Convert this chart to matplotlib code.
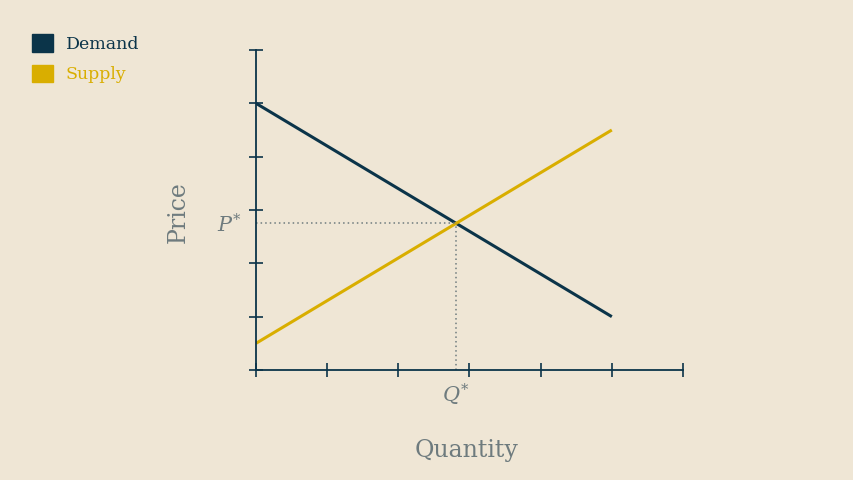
import matplotlib.pyplot as plt
from matplotlib.patches import Patch

# data
quantity = [0, 5]
demand = [5, 1]
supply = [0.5, 4.5]
q_star = 2.8125
p_star = 2.75
ticks = [0, 1, 2, 3, 4, 5, 6]

bg = "#EFE6D5"
navy = "#0B3449"
gold = "#D9AE00"
grey = "#6E7B7E"

plt.rcParams["font.family"] = ["DejaVu Serif"]
plt.rcParams["mathtext.fontset"] = "dejavuserif"

fig = plt.figure(figsize=(8.54, 4.8), dpi=100, facecolor=bg)
ax = fig.add_axes([256 / 854, 110 / 480, 427 / 854, 320 / 480])
ax.set_facecolor(bg)

ax.plot(quantity, demand, color=navy, lw=2.2, solid_capstyle="butt")
ax.plot(quantity, supply, color=gold, lw=2.2, solid_capstyle="butt")

# equilibrium guides
ax.plot([0, q_star], [p_star, p_star], color=grey, lw=1.1, ls=(0, (1, 2)))
ax.plot([q_star, q_star], [0, p_star], color=grey, lw=1.1, ls=(0, (1, 2)))

ax.set_xlim(0, 6)
ax.set_ylim(0, 6)
ax.set_xticks(ticks)
ax.set_yticks(ticks)
ax.set_xticklabels([])
ax.set_yticklabels([])
ax.tick_params(direction="inout", length=10, width=1.2, color=navy)

for s in ["top", "right"]:
    ax.spines[s].set_visible(False)
for s in ["left", "bottom"]:
    ax.spines[s].set_color(navy)
    ax.spines[s].set_linewidth(1.3)

ax.text(-0.2, p_star - 0.03, r"$P^{*}$", ha="right", va="center", fontsize=15, color=grey)
ax.text(q_star, -0.22, r"$Q^{*}$", ha="center", va="top", fontsize=15, color=grey)

fig.text(178 / 854, 1 - 212 / 480, "Price", rotation=90, ha="center", va="center",
         fontsize=17, color=grey)
fig.text(467 / 854, 1 - 451 / 480, "Quantity", ha="center", va="center",
         fontsize=17, color=grey)

handles = [Patch(color=navy, label="Demand"), Patch(color=gold, label="Supply")]
leg = fig.legend(handles=handles, loc="upper left", bbox_to_anchor=(25 / 854, 1 - 27 / 480),
                 frameon=False, fontsize=12.5, handlelength=1.2, handleheight=1.2,
                 handletextpad=0.75, labelspacing=0.68, borderpad=0.4, borderaxespad=0)
for t, c in zip(leg.get_texts(), [navy, gold]):
    t.set_color(c)

fig.savefig("out.png", dpi=100, facecolor=bg)
